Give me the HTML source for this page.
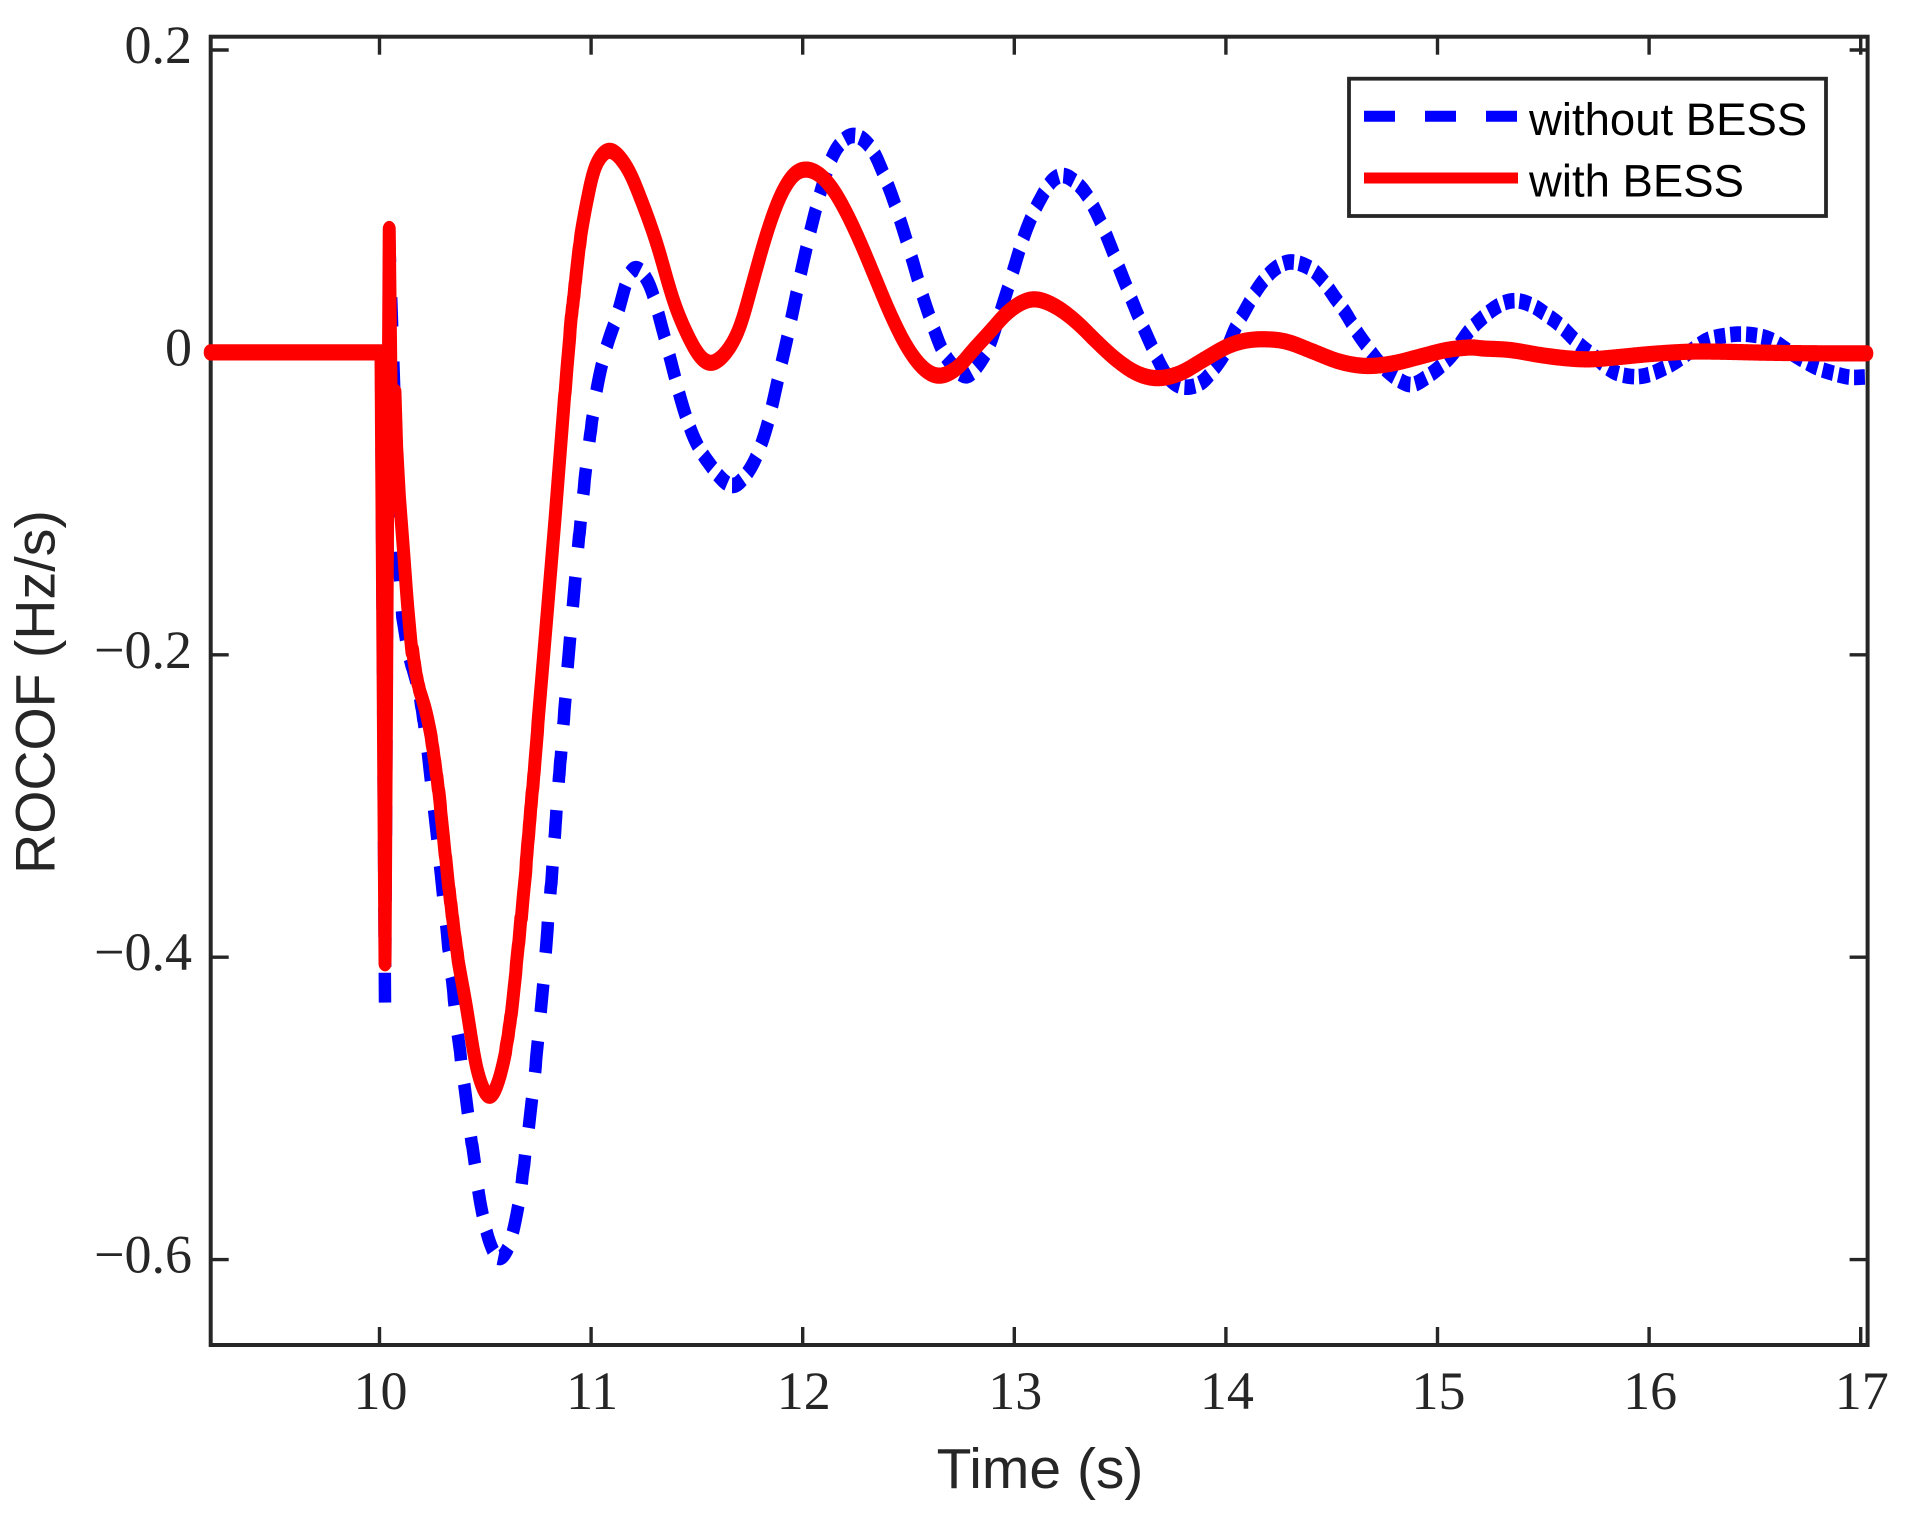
<!DOCTYPE html>
<html>
<head>
<meta charset="utf-8">
<title>ROCOF chart</title>
<style>
html,body{margin:0;padding:0;background:#fff;width:1913px;height:1513px;overflow:hidden}
svg{display:block}
</style>
</head>
<body>
<svg id="chart" xmlns="http://www.w3.org/2000/svg" width="1913" height="1513" viewBox="0 0 1913 1513">
  <g id="axes"></g>
  <g id="series" transform="scale(1,1.25)"></g>
  <text transform="translate(54.5,692) rotate(-90)" text-anchor="middle" font-family="'Liberation Sans',sans-serif" font-size="55.5" fill="#262626">ROCOF (Hz/s)</text>
  <text x="1040" y="1488" text-anchor="middle" font-family="'Liberation Sans',sans-serif" font-size="57" fill="#262626">Time (s)</text>
  <g>
    <rect x="1349" y="78.7" width="477" height="137.3" fill="#fff" stroke="#262626" stroke-width="3.8"/>
    <line x1="1364" y1="116.3" x2="1518" y2="116.3" stroke="#0000ff" stroke-width="11" stroke-dasharray="31 30"/>
    <line x1="1364" y1="178" x2="1518" y2="178" stroke="#ff0000" stroke-width="11"/>
    <text x="1529" y="135" font-family="'Liberation Sans',sans-serif" font-size="45.5" fill="#000">without BESS</text>
    <text x="1529" y="196.7" font-family="'Liberation Sans',sans-serif" font-size="45.5" fill="#000">with BESS</text>
  </g>
</svg>
<script>
const xTicks = [10, 11, 12, 13, 14, 15, 16, 17];
const yTicks = [0.2, 0, -0.2, -0.4, -0.6];
const yTickLabels = ['0.2', '0', '\u22120.2', '\u22120.4', '\u22120.6'];

const timeWithout = [9.2,10,10.007,10.026,10.046,10.069,10.083,10.092,10.108,10.139,10.201,10.228,10.258,10.289,10.318,10.343,10.37,10.404,10.439,10.475,10.514,10.561,10.617,10.656,10.696,10.727,10.754,10.779,10.802,10.821,10.845,10.864,10.963,10.995,11.034,11.078,11.126,11.176,11.223,11.286,11.326,11.37,11.42,11.467,11.515,11.57,11.617,11.675,11.738,11.79,11.841,11.882,11.924,11.972,12.014,12.058,12.105,12.157,12.239,12.326,12.384,12.428,12.473,12.523,12.567,12.612,12.66,12.715,12.775,12.83,12.885,12.932,12.98,13.024,13.071,13.125,13.177,13.232,13.287,13.339,13.386,13.433,13.484,13.531,13.579,13.629,13.678,13.717,13.768,13.822,13.886,13.94,14.004,14.035,14.086,14.137,14.188,14.24,14.308,14.405,14.46,14.512,14.563,14.618,14.668,14.713,14.767,14.831,14.881,14.941,15.004,15.075,15.146,15.201,15.256,15.319,15.382,15.461,15.516,15.571,15.618,15.673,15.752,15.831,15.925,15.996,16.052,16.114,16.193,16.272,16.351,16.43,16.524,16.587,16.65,16.713,16.792,16.871,16.95,17.029];
const rocofWithout = [0,0,0,-0.43,0.075,-0.0216,-0.0976,-0.1393,-0.175,-0.2,-0.2325,-0.2643,-0.3024,-0.3417,-0.3813,-0.4181,-0.4525,-0.4878,-0.5262,-0.5619,-0.586,-0.5996,-0.5897,-0.5644,-0.5262,-0.4868,-0.4499,-0.411,-0.3711,-0.3304,-0.2901,-0.2497,-0.091,-0.0524,-0.0183,0.0064,0.0252,0.0512,0.0556,0.0417,0.021,-0.0017,-0.0293,-0.0502,-0.0646,-0.0756,-0.0839,-0.0884,-0.08,-0.0663,-0.0442,-0.0183,0.0077,0.0395,0.0673,0.0924,0.1162,0.1343,0.1438,0.135,0.1173,0.1013,0.0821,0.0589,0.0373,0.0188,0.0011,-0.0097,-0.0161,-0.0083,0.0049,0.0259,0.0468,0.0677,0.0864,0.1019,0.1136,0.1173,0.1129,0.1052,0.0931,0.0783,0.06,0.0431,0.0265,0.0104,-0.0046,-0.0149,-0.0216,-0.0231,-0.02,-0.0116,0.0016,0.0137,0.0265,0.0395,0.0494,0.0563,0.06,0.0552,0.0474,0.0368,0.0269,0.0137,0.0038,-0.005,-0.0128,-0.0194,-0.0216,-0.0171,-0.0105,-0.0006,0.0137,0.0214,0.028,0.0331,0.0342,0.0302,0.0247,0.0192,0.0126,0.0049,-0.0039,-0.0128,-0.0161,-0.0149,-0.0116,-0.0072,0.0005,0.0082,0.011,0.0122,0.0108,0.0077,0.0016,-0.0039,-0.0101,-0.0138,-0.0165,-0.0161];

const timeWith = [9.2,10,10.007,10.026,10.046,10.059,10.073,10.081,10.094,10.112,10.136,10.168,10.207,10.262,10.302,10.349,10.412,10.459,10.519,10.569,10.617,10.656,10.68,10.711,10.735,10.758,10.829,10.886,10.929,10.984,11.018,11.086,11.168,11.231,11.31,11.388,11.452,11.515,11.57,11.641,11.704,11.767,11.83,11.893,11.956,12.016,12.082,12.145,12.208,12.271,12.334,12.413,12.492,12.57,12.644,12.728,12.806,12.885,12.964,13.043,13.109,13.2,13.295,13.389,13.484,13.579,13.676,13.783,13.893,14.004,14.09,14.185,14.287,14.413,14.539,14.665,14.791,14.917,15.043,15.169,15.201,15.343,15.484,15.61,15.721,15.847,16.004,16.193,16.319,16.555,16.792,17.029];
const rocofWith = [0,0,0,-0.404,0.0816,-0.078,-0.026,-0.0624,-0.0954,-0.1285,-0.1724,-0.2145,-0.2299,-0.2681,-0.3189,-0.3825,-0.4334,-0.4739,-0.493,-0.4792,-0.4462,-0.3952,-0.3569,-0.3139,-0.2681,-0.2299,-0.1108,-0.0095,0.0567,0.103,0.1228,0.1338,0.1228,0.103,0.0722,0.0347,0.0126,-0.0028,-0.0072,0.0005,0.017,0.0479,0.0788,0.103,0.1173,0.1211,0.1173,0.1074,0.092,0.0732,0.0523,0.0259,0.0038,-0.0105,-0.0156,-0.0105,0.0016,0.0137,0.0259,0.0335,0.0351,0.03,0.02,0.0071,-0.005,-0.0138,-0.0171,-0.0138,-0.005,0.0038,0.0077,0.0087,0.0071,0.0005,-0.0062,-0.009,-0.0072,-0.0028,0.0016,0.0034,0.0027,0.0016,-0.0017,-0.0039,-0.0046,-0.0032,-0.0011,0.0005,0.0005,-0.0002,-0.0006,-0.0006];

const SVGNS = 'http://www.w3.org/2000/svg';
const STRETCH = 1.25;
function xScale(t) { return 379.5 + 211.6 * (t - 10); }
function yScale(v) { return 352.4 - 1512 * v; }

const axes = document.getElementById('axes');
const series = document.getElementById('series');
const AX = { left: 210.7, right: 1867.6, top: 36.7, bottom: 1345 };

function addLine(x1, y1, x2, y2, name, w) {
  const l = document.createElementNS(SVGNS, 'line');
  l.setAttribute('x1', x1);
  l.setAttribute('y1', y1);
  l.setAttribute('x2', x2);
  l.setAttribute('y2', y2);
  l.setAttribute('stroke', '#262626');
  l.setAttribute('stroke-width', w);
  
  
  axes.appendChild(l);
}
function addText(x, y, str, anchor, name) {
  const t = document.createElementNS(SVGNS, 'text');
  t.setAttribute('x', x);
  t.setAttribute('y', y);
  t.setAttribute('text-anchor', anchor);
  t.setAttribute('font-family', "'Liberation Serif',serif");
  t.setAttribute('font-size', '54');
  t.setAttribute('fill', '#262626');
  
  
  t.textContent = str;
  axes.appendChild(t);
}

const frame = document.createElementNS(SVGNS, 'rect');
frame.setAttribute('x', AX.left);
frame.setAttribute('y', AX.top);
frame.setAttribute('width', AX.right - AX.left);
frame.setAttribute('height', AX.bottom - AX.top);
frame.setAttribute('fill', 'none');
frame.setAttribute('stroke', '#262626');
frame.setAttribute('stroke-width', '4');


axes.appendChild(frame);

xTicks.forEach(function (t) {
  const x = xScale(t);
  addLine(x, AX.top, x, AX.top + 18, 'x-tick-top', 3.4);
  addLine(x, AX.bottom - 18, x, AX.bottom, 'x-tick-bottom', 3.4);
  addText(x + 1, 1409, String(t), 'middle', 'x-tick-label');
});
yTicks.forEach(function (v, i) {
  const y = yScale(v);
  addLine(AX.left, y, AX.left + 18, y, 'y-tick-left', 3.4);
  addLine(AX.right - 18, y, AX.right, y, 'y-tick-right', 3.4);
  addText(192, y + 13, yTickLabels[i], 'end', 'y-tick-label');
});

function sampleCurve(times, values) {
  const px = times.map(xScale);
  const py = values.map(yScale);
  const n = px.length;
  const out = [];
  const slopes = px.map(function (x, i) {
    if (i === 0 || i === n - 1 || times[i] < 10.12) return null;
    return (py[i + 1] - py[i - 1]) / (px[i + 1] - px[i - 1]);
  });
  for (let i = 0; i < n - 1; i++) {
    const h = px[i + 1] - px[i];
    const steps = Math.max(2, Math.ceil(Math.max(h, Math.abs(py[i + 1] - py[i]) / 6)));
    const secant = (py[i + 1] - py[i]) / h;
    const m0 = slopes[i] === null ? secant : slopes[i];
    const m1 = slopes[i + 1] === null ? secant : slopes[i + 1];
    for (let k = 0; k < steps; k++) {
      const u = k / steps;
      const a = 2*u*u*u - 3*u*u + 1, b = u*u*u - 2*u*u + u, c = -2*u*u*u + 3*u*u, d = u*u*u - u*u;
      out.push([px[i] + u * h, a * py[i] + b * h * m0 + c * py[i + 1] + d * h * m1]);
    }
  }
  out.push([px[n - 1], py[n - 1]]);
  /* light smoothing of hand-read wobble, away from the spike */
  const smooth = out.map(function (p) { return [p[0], p[1]]; });
  for (let i = 0; i < out.length; i++) {
    if (out[i][0] < 412) continue;
    let sum = 0, cnt = 0;
    for (let j = i; j >= 0 && out[i][0] - out[j][0] <= 5 && out[j][0] >= 405; j--) { sum += out[j][1]; cnt++; }
    for (let j = i + 1; j < out.length && out[j][0] - out[i][0] <= 5; j++) { sum += out[j][1]; cnt++; }
    smooth[i][1] = sum / cnt;
  }
  return smooth;
}
function toD(points) {
  return points.map(function (p, i) {
    return (i ? 'L' : 'M') + p[0].toFixed(2) + ' ' + (p[1] / STRETCH).toFixed(2);
  }).join('');
}

/* blue dashed series */
const bluePts = sampleCurve(timeWithout, rocofWithout);
let dashD = '';
let on = true, acc = 0, cur = [bluePts[0]];
for (let i = 1; i < bluePts.length; i++) {
  const dx = bluePts[i][0] - bluePts[i - 1][0];
  const dy = bluePts[i][1] - bluePts[i - 1][1];
  if (on) {
    cur.push(bluePts[i]);
    acc += Math.sqrt(7.3 * dx * dx + dy * dy);
    if (acc >= 27) { dashD += toD(cur); on = false; acc = 0; }
  } else {
    acc += Math.sqrt(49 * dx * dx + dy * dy);
    if (acc >= 30) { on = true; acc = 0; cur = [bluePts[i]]; }
  }
}
if (on && cur.length > 1) dashD += toD(cur);
const blue = document.createElementNS(SVGNS, 'path');
blue.setAttribute('d', dashD);
blue.setAttribute('fill', 'none');
blue.setAttribute('stroke', '#0000ff');
blue.setAttribute('stroke-width', '12.5');
blue.setAttribute('stroke-linejoin', 'round');


series.appendChild(blue);

/* red solid series */
const red = document.createElementNS(SVGNS, 'path');
red.setAttribute('d', toD(sampleCurve(timeWith, rocofWith)));
red.setAttribute('fill', 'none');
red.setAttribute('stroke', '#ff0000');
red.setAttribute('stroke-width', '13');
red.setAttribute('stroke-linejoin', 'round');
red.setAttribute('stroke-linecap', 'round');


series.appendChild(red);
</script>
</body>
</html>
